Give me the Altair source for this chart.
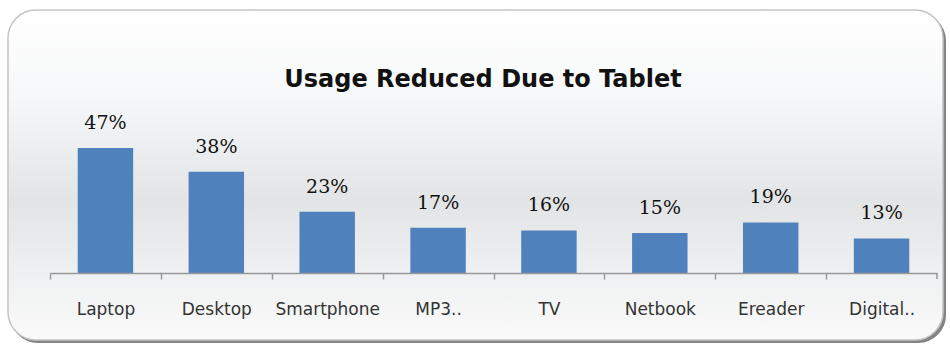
import altair as alt
import pandas as pd

categories = ["Laptop", "Desktop", "Smartphone", "MP3..", "TV", "Netbook", "Ereader", "Digital.."]
values = [47, 38, 23, 17, 16, 15, 19, 13]
labels = ["47%", "38%", "23%", "17%", "16%", "15%", "19%", "13%"]
title_text = "Usage Reduced Due to Tablet"

df = pd.DataFrame({"category": categories, "value": values, "label": labels})
one = pd.DataFrame({"t": [title_text]})

W, H = 887, 173

x_enc = alt.X("category:N", sort=categories,
              scale=alt.Scale(paddingInner=0.5, paddingOuter=0.25),
              axis=alt.Axis(title=None, labelAngle=0, tickOffset=-W / 16, labelOffset=W / 16,
                            zindex=2,
                            domainColor="#999999", tickColor="#999999", tickSize=6,
                            domainWidth=1.5, tickWidth=1.5,
                            labelFont="DejaVu Sans", labelFontSize=17, labelColor="#333333",
                            labelPadding=22, labelBaseline="top", grid=False))
y_enc = alt.Y("value:Q", scale=alt.Scale(domain=[0, 63.5]), axis=None)

shadow = alt.Chart(one).mark_rect(cornerRadius=28, fill="#6e6e6e", opacity=0.85).encode(
    x=alt.value(-40), x2=alt.value(896), y=alt.value(-87), y2=alt.value(243))

panel = alt.Chart(one).mark_rect(
    cornerRadius=28, stroke="#c4c4c4", strokeWidth=1.5,
    fill=alt.Gradient(gradient="linear", x1=0, x2=0, y1=0, y2=1,
                      stops=[alt.GradientStop(offset=0, color="#ffffff"),
                             alt.GradientStop(offset=0.25, color="#f7f8f9"),
                             alt.GradientStop(offset=0.58, color="#e3e4e5"),
                             alt.GradientStop(offset=0.8, color="#eff0f1"),
                             alt.GradientStop(offset=1, color="#fafafa")])
).encode(x=alt.value(-42), x2=alt.value(893), y=alt.value(-90), y2=alt.value(240))

title = alt.Chart(one).mark_text(font="DejaVu Sans", fontWeight="bold", fontSize=24,
                                 color="#111111", baseline="alphabetic", align="center").encode(
    text="t:N", x=alt.value(433), y=alt.value(-13))

bars = alt.Chart(df).mark_bar(color="#4F81BD").encode(x=x_enc, y=y_enc)

text = alt.Chart(df).mark_text(font="DejaVu Serif", fontSize=19, color="#111111",
                               baseline="alphabetic", dy=-19).encode(
    x=alt.X("category:N", sort=categories), y="value:Q", text="label:N")

end_tick = alt.Chart(one).mark_rule(color="#999999", strokeWidth=1.5).encode(
    x=alt.value(W), y=alt.value(H), y2=alt.value(H + 6))

chart = alt.layer(shadow, panel, title, bars, text, end_tick).properties(
    width=W, height=H,
    autosize=alt.AutoSizeParams(type="none"),
    padding={"left": 50, "top": 100, "right": 13, "bottom": 72},
    background="white",
).configure_view(stroke=None)

chart.save("out.html", embed_options={"renderer": "svg", "actions": False})
